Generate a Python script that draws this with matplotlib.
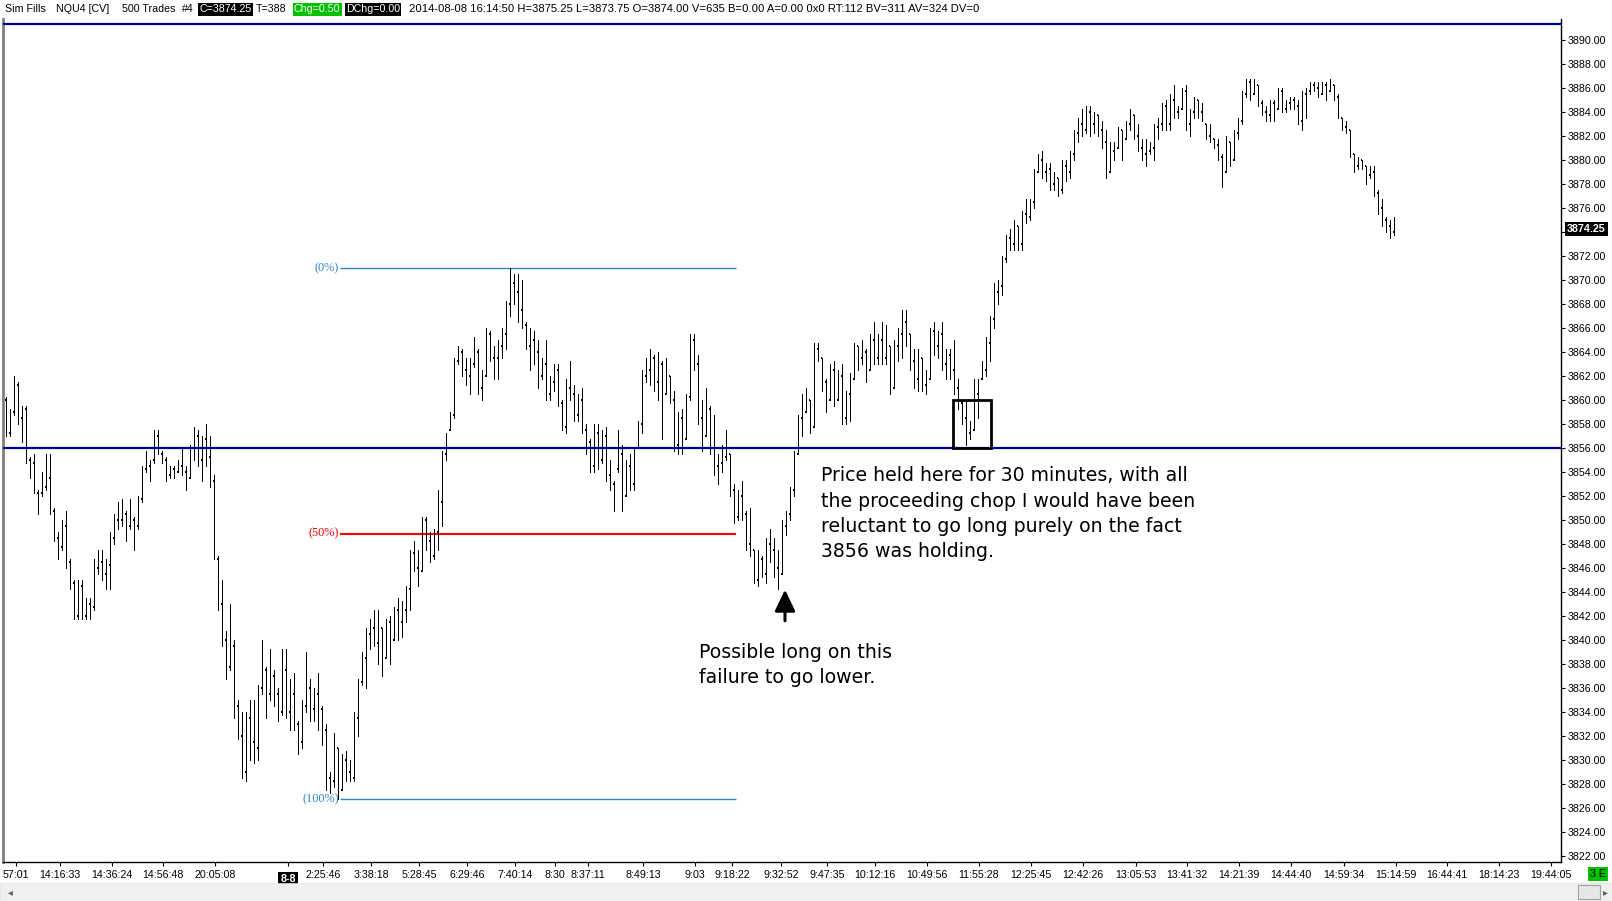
import matplotlib
matplotlib.use('Agg')
import matplotlib.pyplot as plt
from matplotlib.patches import Rectangle

# ---------------- data ----------------
highs = [
    3860.25, 3859.25, 3862.0, 3861.5, 3859.5, 3859.5, 3855.25, 3855.5, 3852.5, 3854.0,
    3855.5, 3855.5, 3851.0, 3849.0, 3850.0, 3850.75, 3846.75, 3845.0, 3845.0, 3845.0,
    3843.5, 3843.5, 3846.75, 3847.5, 3847.5, 3846.75, 3849.0, 3850.5, 3851.5, 3851.75,
    3850.75, 3851.75, 3850.25, 3852.0, 3854.5, 3855.75, 3855.0, 3857.5, 3857.5, 3855.75,
    3855.25, 3854.5, 3854.5, 3855.0, 3856.0, 3854.5, 3856.25, 3857.75, 3857.5, 3857.0,
    3858.0, 3857.0, 3853.75, 3847.0, 3845.0, 3840.75, 3843.0, 3840.0, 3835.0, 3834.0,
    3834.0, 3835.0, 3835.0, 3836.25, 3840.0, 3837.75, 3839.25, 3837.5, 3836.0, 3839.25,
    3839.25, 3836.75, 3837.25, 3833.25, 3835.0, 3839.0, 3836.75, 3836.0, 3837.25, 3834.5,
    3833.0, 3829.0, 3832.25, 3831.0, 3830.5, 3830.75, 3830.0, 3834.0, 3836.75, 3839.0,
    3841.0, 3841.75, 3842.5, 3842.5, 3841.0, 3841.75, 3842.0, 3842.75, 3843.5, 3843.25,
    3844.5, 3847.5, 3848.25, 3847.5, 3850.25, 3850.25, 3849.0, 3849.25, 3852.5, 3855.75,
    3857.25, 3859.0, 3863.5, 3864.5, 3864.25, 3863.5, 3863.5, 3865.25, 3864.25, 3862.5,
    3866.0, 3865.75, 3864.5, 3865.0, 3866.0, 3868.25, 3871.0, 3870.5, 3870.5, 3870.0,
    3866.5, 3866.0, 3865.75, 3865.0, 3863.5, 3865.0, 3862.0, 3863.0, 3863.0, 3860.0,
    3861.75, 3863.25, 3861.25, 3860.5, 3861.0, 3858.0, 3856.75, 3858.0, 3858.0, 3857.5,
    3857.75, 3855.0, 3853.25, 3857.5, 3856.25, 3855.0, 3855.5, 3856.0, 3858.25, 3862.5,
    3863.5, 3864.25, 3863.75, 3864.0, 3863.25, 3863.5, 3862.0, 3860.75, 3859.0, 3859.25,
    3860.5, 3865.5, 3865.5, 3863.75, 3860.0, 3861.0, 3859.5, 3858.75, 3855.5, 3856.25,
    3857.5, 3855.5, 3853.0, 3852.5, 3853.25, 3850.75, 3851.0, 3847.5, 3847.5, 3847.0,
    3848.5, 3849.25, 3848.5, 3847.5, 3850.0, 3850.75, 3852.75, 3855.75, 3858.75, 3860.5,
    3861.0, 3860.0, 3864.75, 3864.75, 3863.5, 3861.75, 3863.0, 3863.25, 3862.5, 3863.0,
    3860.75, 3862.25, 3864.75, 3864.5, 3865.0, 3864.25, 3865.5, 3866.5, 3865.5, 3866.5,
    3866.25, 3864.5, 3865.0, 3866.0, 3867.5, 3867.5, 3865.5, 3864.25, 3864.25, 3863.5,
    3862.5, 3866.0, 3866.5, 3865.75, 3866.5, 3864.25, 3864.25, 3865.0, 3861.75, 3860.0,
    3860.0, 3858.25, 3861.75, 3861.75, 3863.25, 3865.25, 3867.0, 3869.75, 3870.0, 3872.0,
    3873.75, 3874.25, 3875.0, 3874.5, 3875.75, 3876.75, 3876.75, 3879.25, 3880.5, 3880.75,
    3879.75, 3879.75, 3879.0, 3878.5, 3880.0, 3880.0, 3880.75, 3882.5, 3883.5, 3884.25,
    3884.5, 3884.5, 3884.0, 3883.75, 3883.25, 3882.5, 3881.5, 3881.5, 3882.75, 3882.5,
    3883.25, 3884.25, 3883.75, 3883.0, 3881.75, 3881.75, 3881.5, 3883.0, 3883.5, 3884.75,
    3885.0, 3885.5, 3886.25, 3884.5, 3886.0, 3886.25, 3884.25, 3885.25, 3885.0, 3884.75,
    3883.0, 3883.0, 3881.75, 3881.75, 3880.5, 3882.0, 3881.5, 3882.5, 3883.5, 3885.75,
    3886.75, 3886.75, 3886.75, 3886.25, 3885.0, 3884.5, 3885.0, 3885.0, 3886.0, 3886.0,
    3885.0, 3885.25, 3885.25, 3885.0, 3885.75, 3886.0, 3886.5, 3886.5, 3886.5, 3886.5,
    3886.5, 3886.75, 3886.25, 3885.5, 3883.5, 3883.25, 3882.5, 3880.5, 3880.25, 3880.0,
    3879.5, 3879.5, 3879.5, 3877.5, 3876.75, 3875.25, 3875.0, 3875.25,
]

lows = [
    3857.0, 3857.0, 3858.75, 3858.0, 3856.5, 3854.75, 3853.5, 3852.25, 3850.5, 3852.0,
    3852.5, 3850.5, 3848.25, 3846.75, 3847.5, 3846.0, 3844.25, 3841.75, 3841.75, 3841.75,
    3841.75, 3841.75, 3842.5, 3845.5, 3845.0, 3844.25, 3844.25, 3848.0, 3849.25, 3849.5,
    3848.25, 3849.25, 3847.5, 3849.25, 3851.5, 3854.0, 3853.25, 3854.75, 3855.5, 3854.75,
    3853.25, 3853.5, 3853.5, 3854.0, 3853.75, 3852.5, 3853.5, 3855.0, 3854.5, 3853.25,
    3854.5, 3852.75, 3846.75, 3842.5, 3839.5, 3836.75, 3837.5, 3833.5, 3831.75, 3828.5,
    3828.25, 3830.0, 3829.75, 3830.0, 3835.5, 3833.5, 3835.0, 3834.5, 3833.25, 3833.75,
    3833.5, 3832.5, 3832.5, 3830.5, 3831.0, 3834.0, 3833.25, 3833.25, 3832.5, 3831.25,
    3827.5, 3827.25, 3827.75, 3826.75, 3827.5, 3828.25, 3828.25, 3828.25, 3832.0, 3836.25,
    3836.0, 3839.25, 3839.5, 3838.0, 3837.0, 3838.5, 3838.0, 3840.0, 3840.0, 3840.25,
    3841.5, 3842.5, 3845.75, 3844.5, 3845.75, 3847.5, 3846.5, 3846.75, 3847.5, 3849.5,
    3855.0, 3857.5, 3858.5, 3863.0, 3862.0, 3861.25, 3860.5, 3862.75, 3860.5, 3860.0,
    3862.0, 3863.25, 3861.75, 3861.75, 3863.5, 3864.25, 3867.0, 3868.0, 3866.5, 3866.0,
    3864.25, 3862.5, 3863.0, 3861.0, 3861.75, 3860.0, 3860.0, 3860.75, 3859.5, 3857.5,
    3857.25, 3860.0, 3858.25, 3858.25, 3857.25, 3855.5, 3854.0, 3854.0, 3854.25, 3854.75,
    3853.25, 3852.5, 3850.75, 3854.0, 3850.75, 3852.0, 3852.5, 3852.5, 3856.0, 3857.25,
    3861.5, 3861.25, 3860.75, 3860.0, 3856.75, 3860.5, 3859.75, 3855.75, 3855.5, 3855.5,
    3856.75, 3860.0, 3862.5, 3858.0, 3855.75, 3857.0, 3855.5, 3853.75, 3853.0, 3854.0,
    3855.0, 3852.0, 3849.75, 3850.0, 3850.0, 3847.5, 3847.0, 3844.75, 3844.5, 3845.25,
    3844.75, 3846.5, 3845.25, 3844.25, 3845.5, 3848.75, 3850.0, 3852.0, 3855.5, 3857.0,
    3859.0, 3857.25, 3857.75, 3863.25, 3860.75, 3859.0, 3860.0, 3859.5, 3860.0, 3858.0,
    3858.0, 3858.25, 3861.75, 3862.5, 3863.0, 3861.5, 3862.5, 3863.0, 3863.0, 3863.0,
    3863.0, 3860.5, 3861.0, 3863.25, 3863.5, 3864.5, 3862.5, 3861.0, 3860.75, 3860.75,
    3860.5, 3861.75, 3863.75, 3863.5, 3862.5, 3861.75, 3861.75, 3860.5, 3859.25, 3858.0,
    3856.25, 3856.75, 3857.5, 3858.5, 3861.75, 3862.0, 3863.25, 3866.0, 3868.0, 3868.75,
    3871.5, 3872.5, 3872.5, 3872.5, 3872.5, 3874.75, 3875.0, 3876.0, 3879.0, 3878.5,
    3878.25, 3877.5, 3877.5, 3877.0, 3877.25, 3878.25, 3878.5, 3880.0, 3881.5, 3882.0,
    3882.25, 3882.0, 3882.25, 3882.0, 3881.0, 3878.5, 3879.0, 3880.0, 3881.0, 3880.0,
    3881.75, 3882.5, 3881.75, 3880.75, 3880.0, 3879.5, 3880.5, 3880.0, 3881.75, 3882.5,
    3882.5, 3882.5, 3883.5, 3883.5, 3884.25, 3882.5, 3882.0, 3883.5, 3883.5, 3883.25,
    3881.75, 3881.5, 3881.0, 3880.0, 3877.75, 3879.0, 3879.5, 3880.0, 3881.75, 3883.0,
    3885.25, 3885.0, 3885.5, 3884.5, 3883.75, 3883.25, 3883.25, 3883.25, 3884.25, 3884.0,
    3884.0, 3884.25, 3884.25, 3883.0, 3882.5, 3883.5, 3885.5, 3885.75, 3885.25, 3885.5,
    3885.0, 3885.75, 3885.0, 3883.5, 3882.5, 3882.25, 3880.25, 3879.0, 3879.25, 3879.25,
    3878.0, 3878.5, 3877.0, 3875.5, 3874.5, 3874.0, 3873.5, 3873.75,
]

opens = [
    3860.0, 3857.25, 3859.0, 3861.25, 3858.5, 3859.25, 3855.0, 3854.75, 3852.25, 3852.25,
    3852.75, 3853.5, 3850.75, 3848.5, 3847.75, 3849.5, 3846.5, 3844.75, 3842.0, 3844.5,
    3842.0, 3843.0, 3842.75, 3846.0, 3846.5, 3845.5, 3846.25, 3848.5, 3850.0, 3850.0,
    3850.5, 3849.5, 3850.0, 3849.5, 3851.75, 3854.25, 3854.5, 3855.0, 3857.0, 3855.5,
    3855.0, 3853.75, 3854.25, 3854.0, 3854.5, 3854.0, 3853.5, 3856.0, 3857.0, 3855.0,
    3856.75, 3855.25, 3853.25, 3846.75, 3843.0, 3840.0, 3837.75, 3839.5, 3834.5, 3832.0,
    3829.0, 3833.5, 3831.5, 3831.0, 3836.0, 3837.5, 3835.5, 3837.0, 3835.5, 3834.0,
    3837.5, 3834.0, 3835.5, 3833.0, 3831.5, 3834.5, 3836.0, 3834.25, 3835.5, 3834.25,
    3832.5, 3828.5, 3828.25, 3831.0, 3827.5, 3830.0, 3829.0, 3828.5, 3833.5, 3836.5,
    3838.5, 3840.5, 3841.0, 3839.75, 3841.0, 3838.5, 3841.5, 3840.0, 3842.5, 3841.5,
    3842.5, 3844.25, 3847.25, 3846.0, 3845.75, 3850.0, 3848.25, 3847.0, 3849.0, 3851.5,
    3855.5, 3857.5, 3858.75, 3863.25, 3864.0, 3862.5, 3862.0, 3863.0, 3864.0, 3861.0,
    3862.0, 3865.5, 3863.5, 3863.5, 3864.5, 3865.5, 3868.0, 3869.75, 3869.0, 3867.5,
    3866.25, 3864.5, 3865.0, 3864.0, 3862.0, 3863.0, 3860.5, 3861.5, 3862.5, 3859.75,
    3857.75, 3861.0, 3860.5, 3858.75, 3860.0, 3857.5, 3856.5, 3854.5, 3857.25, 3855.0,
    3857.0, 3853.75, 3853.0, 3854.25, 3855.5, 3852.0, 3854.5, 3853.0, 3856.0, 3858.0,
    3862.0, 3862.5, 3863.5, 3861.5, 3863.0, 3860.5, 3862.0, 3860.0, 3856.25, 3858.5,
    3856.75, 3860.25, 3865.0, 3863.0, 3858.5, 3857.0, 3859.25, 3856.0, 3854.5, 3854.75,
    3855.25, 3855.5, 3852.5, 3850.25, 3852.0, 3850.5, 3848.0, 3847.5, 3845.0, 3846.75,
    3845.5, 3848.0, 3847.5, 3846.0, 3845.5, 3849.5, 3850.5, 3852.5, 3855.5, 3858.5,
    3859.0, 3860.0, 3857.75, 3864.25, 3863.5, 3861.5, 3860.0, 3862.5, 3860.0, 3862.0,
    3858.5, 3860.5, 3861.75, 3864.5, 3863.5, 3864.0, 3862.5, 3865.0, 3863.5, 3865.0,
    3863.5, 3864.5, 3861.0, 3864.5, 3865.5, 3866.5, 3865.5, 3863.25, 3861.75, 3863.5,
    3861.25, 3861.75, 3865.75, 3864.5, 3865.5, 3863.0, 3863.75, 3862.5, 3861.0, 3859.75,
    3858.5, 3857.25, 3857.5, 3860.5, 3861.75, 3862.5, 3864.75, 3866.75, 3869.0, 3869.5,
    3871.75, 3873.5, 3873.0, 3874.5, 3873.0, 3875.5, 3875.25, 3876.5, 3879.0, 3880.0,
    3879.0, 3879.25, 3878.0, 3878.5, 3877.5, 3879.5, 3879.0, 3880.5, 3882.25, 3883.0,
    3882.5, 3884.0, 3883.0, 3883.75, 3882.5, 3881.5, 3879.0, 3880.75, 3881.0, 3882.5,
    3881.75, 3883.0, 3883.75, 3882.0, 3881.0, 3880.5, 3880.75, 3881.0, 3882.75, 3883.0,
    3884.5, 3883.0, 3885.0, 3884.0, 3884.25, 3885.75, 3883.0, 3884.0, 3885.0, 3884.0,
    3883.0, 3882.0, 3881.75, 3881.25, 3880.25, 3879.0, 3881.5, 3880.0, 3882.25, 3883.25,
    3885.5, 3886.5, 3885.5, 3886.25, 3884.75, 3884.0, 3883.75, 3884.75, 3884.25, 3885.75,
    3884.25, 3884.75, 3885.0, 3884.5, 3883.25, 3885.5, 3885.75, 3886.25, 3886.0, 3885.5,
    3886.25, 3885.75, 3886.25, 3885.25, 3883.5, 3882.75, 3882.5, 3880.5, 3879.5, 3880.0,
    3879.5, 3878.75, 3879.0, 3877.25, 3876.0, 3875.0, 3874.5, 3874.0,
]

closes = [
    3857.5, 3859.0, 3861.5, 3858.5, 3859.25, 3855.0, 3854.75, 3852.5, 3851.0, 3852.5,
    3853.5, 3851.0, 3848.5, 3847.5, 3849.75, 3846.5, 3844.5, 3842.0, 3844.5, 3842.0,
    3843.0, 3842.25, 3846.25, 3846.5, 3845.5, 3846.5, 3848.75, 3850.0, 3849.75, 3851.25,
    3849.0, 3850.5, 3848.25, 3851.75, 3854.0, 3854.5, 3854.75, 3857.0, 3855.75, 3855.0,
    3853.5, 3854.25, 3854.0, 3854.5, 3854.0, 3853.25, 3856.0, 3857.25, 3855.0, 3856.75,
    3855.25, 3853.25, 3847.0, 3843.0, 3840.0, 3837.5, 3839.5, 3834.5, 3832.25, 3829.0,
    3833.75, 3831.5, 3830.75, 3836.0, 3838.25, 3835.5, 3837.0, 3835.75, 3834.0, 3837.75,
    3834.0, 3835.5, 3833.0, 3831.75, 3834.5, 3836.0, 3834.25, 3835.5, 3834.5, 3832.5,
    3828.5, 3828.25, 3831.75, 3827.25, 3830.0, 3829.0, 3828.5, 3833.75, 3836.5, 3838.75,
    3840.5, 3841.0, 3839.75, 3841.25, 3837.5, 3841.5, 3838.5, 3842.5, 3841.5, 3842.5,
    3844.25, 3847.25, 3846.0, 3845.25, 3850.0, 3848.25, 3847.0, 3849.0, 3851.5, 3855.5,
    3857.0, 3858.75, 3863.25, 3864.0, 3862.5, 3862.0, 3863.0, 3864.5, 3861.0, 3860.5,
    3865.75, 3863.5, 3863.5, 3864.5, 3865.5, 3868.0, 3869.75, 3869.0, 3867.5, 3866.5,
    3864.5, 3865.0, 3864.0, 3862.0, 3863.0, 3860.5, 3861.5, 3862.5, 3859.75, 3857.75,
    3861.0, 3860.5, 3858.75, 3860.0, 3857.5, 3856.5, 3854.5, 3857.25, 3854.75, 3857.0,
    3853.75, 3853.0, 3851.5, 3855.5, 3851.5, 3854.5, 3853.0, 3855.75, 3858.0, 3862.0,
    3862.5, 3863.75, 3861.5, 3863.0, 3857.5, 3863.0, 3860.0, 3856.25, 3858.5, 3856.0,
    3860.25, 3865.0, 3863.0, 3858.5, 3856.5, 3860.0, 3856.0, 3854.5, 3854.75, 3855.25,
    3855.5, 3852.5, 3850.25, 3852.0, 3850.5, 3848.0, 3850.5, 3845.0, 3846.75, 3845.5,
    3848.0, 3847.5, 3846.0, 3845.0, 3849.5, 3850.5, 3852.5, 3855.5, 3858.5, 3858.0,
    3860.5, 3857.75, 3864.25, 3863.5, 3861.5, 3859.5, 3862.5, 3860.0, 3862.0, 3858.5,
    3860.5, 3861.75, 3864.5, 3863.5, 3864.25, 3862.0, 3865.0, 3863.5, 3865.0, 3863.5,
    3864.5, 3861.0, 3864.5, 3865.5, 3866.5, 3865.75, 3863.25, 3861.75, 3863.5, 3861.25,
    3861.5, 3865.75, 3864.5, 3865.5, 3863.0, 3863.75, 3862.5, 3861.0, 3859.75, 3858.5,
    3857.25, 3857.5, 3860.5, 3861.5, 3862.5, 3864.75, 3866.75, 3869.0, 3869.5, 3871.75,
    3873.5, 3873.0, 3874.75, 3873.0, 3875.5, 3875.25, 3876.5, 3879.0, 3880.0, 3879.0,
    3879.25, 3878.0, 3878.5, 3877.5, 3879.5, 3879.0, 3880.5, 3882.25, 3883.0, 3882.5,
    3884.0, 3883.0, 3883.75, 3882.5, 3881.5, 3879.0, 3880.75, 3881.0, 3882.5, 3880.5,
    3883.0, 3883.75, 3882.0, 3881.0, 3880.5, 3880.75, 3881.0, 3882.75, 3883.0, 3884.5,
    3883.0, 3885.0, 3884.0, 3884.25, 3885.75, 3883.0, 3884.0, 3885.0, 3884.0, 3883.5,
    3882.0, 3882.5, 3881.25, 3880.25, 3878.5, 3881.5, 3880.0, 3882.25, 3883.25, 3885.5,
    3886.5, 3885.5, 3886.5, 3884.75, 3884.0, 3883.75, 3884.75, 3883.5, 3885.75, 3884.25,
    3884.75, 3885.0, 3884.5, 3883.25, 3885.5, 3885.75, 3886.25, 3886.0, 3885.5, 3886.25,
    3885.5, 3886.5, 3885.25, 3883.75, 3882.75, 3882.5, 3880.5, 3879.5, 3880.0, 3879.5,
    3878.75, 3879.0, 3877.25, 3876.0, 3875.0, 3874.5, 3874.0, 3874.25,
]

# time-axis labels (bar index where each label sits)
tick_bars = [2.4, 13.5, 26.5, 39.25, 52.25, 79.25, 91.25, 103.25, 115.25, 127.25,
             137.25, 145.5, 159.25, 172.25, 181.5, 193.75, 205.25, 217.25, 230.25,
             243.25, 256.25, 269.25, 282.5, 295.25, 308.25, 321.25, 334.5, 347.5,
             360.25, 373.25, 386.25]
tick_texts = ['57:01', '14:16:33', '14:36:24', '14:56:48', '20:05:08', '2:25:46',
              '3:38:18', '5:28:45', '6:29:46', '7:40:14', '8:30', '8:37:11', '8:49:13',
              '9:03', '9:18:22', '9:32:52', '9:47:35', '10:12:16', '10:49:56',
              '11:55:28', '12:25:45', '12:42:26', '13:05:53', '13:41:32', '14:21:39',
              '14:44:40', '14:59:34', '15:14:59', '16:44:41', '18:14:23', '19:44:05']
date_bar = 70.5
date_text = '8-8'

price_ticks = list(range(3822, 3892, 2))

fib_levels = [3871.0, 3848.875, 3826.75]
fib_names = ['(0%)', '(50%)', '(100%)']
fib_colors = ['#2e86c1', '#ff0000', '#2e86c1']
fib_span = (83.5, 182.5)

support_level = 3856.0
top_level = 3891.33
last_price = 3874.25
box_bars = (236.75, 246.25)
box_prices = (3856.0, 3860.0)
arrow_bar = 194.75
arrow_prices = (3841.6, 3844.2)

note1 = ['Price held here for 30 minutes, with all',
         'the proceeding chop I would have been',
         'reluctant to go long purely on the fact',
         '3856 was holding.']
note1_pos = (203.75, 3853.67)
note2 = ['Possible long on this', 'failure to go lower.']
note2_pos = (173.25, 3839.0)
line_step = 2.11

header_plain = [('Sim Fills', 5), ('NQU4 [CV]', 56), ('500 Trades', 122), ('#4', 182),
                ('T=388', 256)]
header_boxes = [('C=3874.25', 199, 'black'), ('Chg=0.50', 294, '#00c000'),
                ('DChg=0.00', 346, 'black')]
header_tail = ('2014-08-08 16:14:50 H=3875.25 L=3873.75 O=3874.00 V=635 B=0.00 '
               'A=0.00 0x0 RT:112 BV=311 AV=324 DV=0', 409)

# ---------------- figure ----------------
ui_font = 'Liberation Sans'
ui_size = 7.7
tail_size = 8.15
note_font = 'DejaVu Sans'
note_size = 13.6

W, H = 1612, 901
fig = plt.figure(figsize=(W / 100, H / 100), dpi=100)
fig.patch.set_facecolor('white')
ax = fig.add_axes([3 / W, 1 - 862 / H, (1561 - 3) / W, (862 - 19) / H])
ax.set_facecolor('white')

n = len(highs)
idx = list(range(n))
ax.vlines(idx, lows, highs, color='black', lw=0.72, antialiased=False, zorder=3)
ax.hlines(opens, [i - 0.25 for i in idx], idx, color='black', lw=1.2,
          antialiased=False, zorder=3)
ax.hlines(closes, idx, [i + 0.25 for i in idx], color='black', lw=1.2,
          antialiased=False, zorder=3)

ax.set_xlim(-0.75, 388.75)
ax.set_ylim(3821.5, 3891.75)

# horizontal level lines
ax.axhline(support_level, color='#000099', lw=1.6, zorder=4)
ax.axhline(top_level, color='#000099', lw=1.6, zorder=4)

# fib retracement
for lvl, name, col in zip(fib_levels, fib_names, fib_colors):
    lw = 1.5 if col == '#ff0000' else 1.0
    ax.hlines(lvl, fib_span[0], fib_span[1], color=col, lw=lw, zorder=2)
    ax.text(fib_span[0] - 0.3, lvl, name, color=col, ha='right', va='center',
            fontsize=8.8, family='Liberation Serif', zorder=5)

# box
ax.add_patch(Rectangle((box_bars[0], box_prices[0]), box_bars[1] - box_bars[0],
                       box_prices[1] - box_prices[0], fill=False, ec='black',
                       lw=2.0, zorder=5))

# arrow
ax.annotate('', xy=(arrow_bar, arrow_prices[1]), xytext=(arrow_bar, arrow_prices[0]),
            arrowprops=dict(arrowstyle='-|>,head_length=1.3,head_width=0.62',
                            color='black', lw=2.2, shrinkA=0, shrinkB=0), zorder=6)

# notes
for k, line in enumerate(note1):
    ax.text(note1_pos[0], note1_pos[1] - k * line_step, line, ha='left', va='center',
            fontsize=note_size, family=note_font, color='black', zorder=6)
for k, line in enumerate(note2):
    ax.text(note2_pos[0], note2_pos[1] - k * line_step, line, ha='left', va='center',
            fontsize=note_size, family=note_font, color='black', zorder=6)

# axes styling
ax.spines['top'].set_visible(False)
ax.spines['left'].set_color('#808080')
ax.spines['left'].set_linewidth(2)
ax.spines['right'].set_color('black')
ax.spines['right'].set_linewidth(1)
ax.spines['bottom'].set_color('black')
ax.spines['bottom'].set_linewidth(1)

ax.yaxis.tick_right()
ax.set_yticks(price_ticks)
ax.set_yticklabels(['' if p == 3874 else f'{p:.2f}' for p in price_ticks])
ax.tick_params(axis='y', direction='out', length=3, width=0.8, pad=1.5,
               labelsize=ui_size, colors='black')
for lab in ax.get_yticklabels():
    lab.set_family(ui_font)

ax.set_xticks(tick_bars + [date_bar])
ax.set_xticklabels(tick_texts + [''])
ax.tick_params(axis='x', direction='out', length=3, width=0.8, pad=3,
               labelsize=ui_size, colors='black')
for lab in ax.get_xticklabels():
    lab.set_family(ui_font)

# date label (black box)
ax.text(date_bar, -0.0145, date_text, transform=ax.get_xaxis_transform(), ha='center',
        va='top', color='white', fontsize=ui_size, family=ui_font, fontweight='bold',
        bbox=dict(boxstyle='square,pad=0.2', fc='black', ec='none'), clip_on=False)

# last price label
ax.text(1.004, last_price, f'{last_price:.2f}', transform=ax.get_yaxis_transform(),
        ha='left', va='center', color='white', fontsize=ui_size, family=ui_font,
        fontweight='bold',
        bbox=dict(boxstyle='square,pad=0.2', fc='black', ec='none'), clip_on=False,
        zorder=10)

# header
hy = 1 - 9.5 / H
for txt, x in header_plain:
    fig.text(x / W, hy, txt, ha='left', va='center', fontsize=ui_size, family=ui_font,
             color='black')
for txt, x, col in header_boxes:
    fig.text(x / W, hy, txt, ha='left', va='center', fontsize=ui_size, family=ui_font,
             color='white', bbox=dict(boxstyle='square,pad=0.12', fc=col, ec='none'))
fig.text(header_tail[1] / W, hy, header_tail[0], ha='left', va='center',
         fontsize=tail_size, family=ui_font, color='black')

# bottom scrollbar and status box
fig.patches.append(Rectangle((0, 0), 1, 18 / H, transform=fig.transFigure,
                             fc='#f0f0f0', ec='#e0e0e0', lw=0.5, zorder=0))
fig.patches.append(Rectangle((1578 / W, 2 / H), 22 / W, 14 / H, transform=fig.transFigure,
                             fc='#e6e6e6', ec='#a0a0a0', lw=0.8, zorder=1))
fig.text(10 / W, 9 / H, '\u25c2', ha='center', va='center', fontsize=7, color='#606060')
fig.text(1605 / W, 9 / H, '\u25b8', ha='center', va='center', fontsize=7, color='#606060')
fig.text(1598 / W, 1 - 874 / H, '3 E', ha='center', va='center', fontsize=ui_size,
         family=ui_font, color='black',
         bbox=dict(boxstyle='square,pad=0.2', fc='#00c000', ec='none'))

fig.savefig('out.png', dpi=100, facecolor='white')
